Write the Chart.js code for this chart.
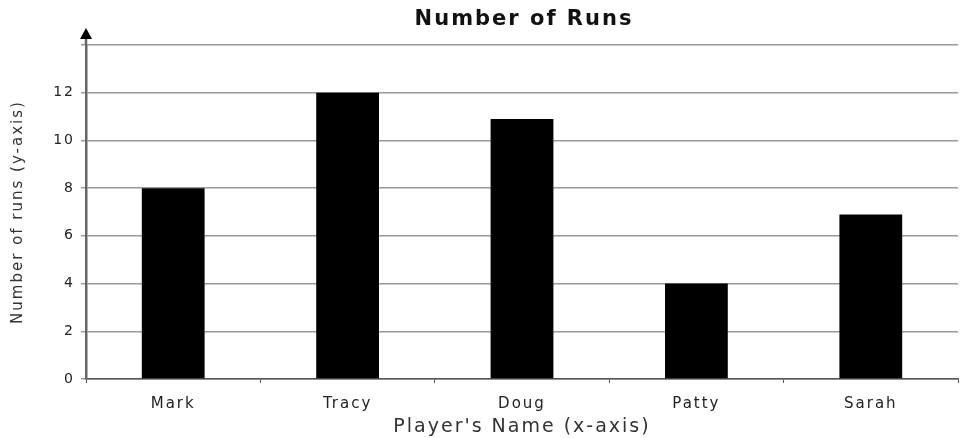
<!DOCTYPE html>
<html>
<head>
<meta charset="utf-8">
<script src="https://cdn.jsdelivr.net/npm/chart.js@4"></script>
<style>
    html, body { margin: 0; padding: 0; background: #fff; }
    #wrap { width: 960px; height: 438px; }
</style>
</head>
<body>
<div id="wrap"><canvas id="runsChart"></canvas></div>
<script>
// ===== data =====
const chartTitle = 'Number of Runs';
const players = ['Mark', 'Tracy', 'Doug', 'Patty', 'Sarah'];
const runs = [8, 12, 10.9, 4, 6.9];
const yTicks = [0, 2, 4, 6, 8, 10, 12];

const fontFamily = "'DejaVu Sans', sans-serif";

// wide, spaced lettering like the original (Century Gothic look)
const spacedText = {
    id: 'spacedText',
    beforeDraw(chart) {
        chart.ctx.letterSpacing = '2px';
    }
};

// title + arrow at the top of the y axis
const titleAndArrow = {
    id: 'titleAndArrow',
    afterDraw(chart) {
        const { ctx, chartArea } = chart;
        const x = chart.scales.y.left + chart.scales.y.width;
        ctx.save();
        ctx.strokeStyle = '#666';
        ctx.lineWidth = 2.5;
        ctx.beginPath();
        ctx.moveTo(x, chartArea.top);
        ctx.lineTo(x, chartArea.top - 8);
        ctx.stroke();
        ctx.fillStyle = '#000';
        ctx.beginPath();
        ctx.moveTo(x, chartArea.top - 17);
        ctx.lineTo(x - 6, chartArea.top - 6);
        ctx.lineTo(x + 6, chartArea.top - 6);
        ctx.closePath();
        ctx.fill();

        ctx.letterSpacing = '2px';
        ctx.font = 'bold 21px ' + fontFamily;
        ctx.fillStyle = '#111';
        ctx.textAlign = 'center';
        ctx.textBaseline = 'middle';
        ctx.fillText(chartTitle, (chartArea.left + chartArea.right) / 2 + 2, 20);
        ctx.restore();
    }
};

const ctx = document.getElementById('runsChart').getContext('2d');
new Chart(ctx, {
    type: 'bar',
    data: {
        labels: players,
        datasets: [{
            label: chartTitle,
            data: runs,
            backgroundColor: '#000',
            categoryPercentage: 1,
            barPercentage: 0.36
        }]
    },
    options: {
        responsive: true,
        maintainAspectRatio: false,
        animation: false,
        layout: { padding: { top: 45, right: 2 } },
        plugins: {
            legend: { display: false },
            tooltip: { enabled: false },
            title: { display: false }
        },
        scales: {
            x: {
                offset: true,
                grid: {
                    offset: true,
                    drawOnChartArea: false,
                    tickLength: 4,
                    color: '#555'
                },
                border: { color: '#555', width: 1.5 },
                ticks: {
                    color: '#222',
                    padding: 12,
                    font: { family: fontFamily, size: 15 }
                },
                title: {
                    display: true,
                    text: "Player's Name (x-axis)",
                    color: '#333',
                    font: { family: fontFamily, size: 19 },
                    padding: { top: 1, bottom: 0 }
                },
                afterFit(scale) { scale.height = 59; }
            },
            y: {
                min: 0,
                max: 14,
                afterBuildTicks(scale) {
                    scale.ticks = yTicks.concat([14]).map(v => ({ value: v }));
                },
                grid: {
                    color: '#9a9a9a',
                    lineWidth: 1.5,
                    tickLength: 5
                },
                border: { color: '#666', width: 2.5 },
                ticks: {
                    color: '#222',
                    padding: 6,
                    font: { family: fontFamily, size: 14 },
                    callback: v => yTicks.includes(v) ? v : ''
                },
                title: {
                    display: true,
                    text: 'Number of runs (y-axis)',
                    color: '#333',
                    font: { family: fontFamily, size: 15 },
                    padding: { top: 9, bottom: 0 }
                },
                afterFit(scale) { scale.width = 86; }
            }
        }
    },
    plugins: [spacedText, titleAndArrow]
});
</script>
</body>
</html>
